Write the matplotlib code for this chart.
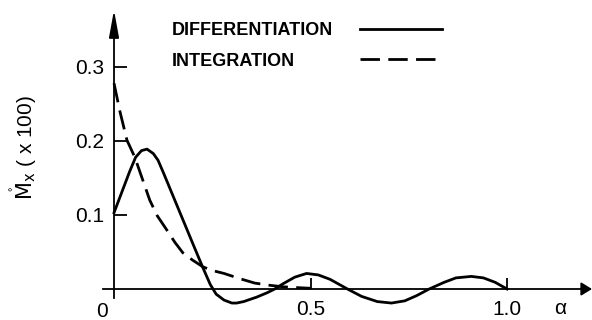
import matplotlib
matplotlib.use('Agg')
import matplotlib.pyplot as plt

# Moment response versus alpha for the two schemes
diff_alpha = [0.0, 0.02, 0.04, 0.055, 0.07, 0.084, 0.10, 0.112, 0.125, 0.15, 0.175, 0.20,
              0.226, 0.245, 0.26, 0.28, 0.30, 0.312, 0.33, 0.363, 0.39, 0.409, 0.43, 0.46,
              0.49, 0.52, 0.55, 0.594, 0.63, 0.67, 0.706, 0.74, 0.77, 0.802, 0.84, 0.87,
              0.909, 0.94, 0.97, 1.0]
diff_mx = [0.103, 0.131, 0.159, 0.178, 0.187, 0.189, 0.183, 0.174, 0.158, 0.126, 0.094, 0.062,
           0.029, 0.006, -0.007, -0.015, -0.019, -0.019, -0.017, -0.011, -0.005, 0.0, 0.007, 0.016,
           0.021, 0.019, 0.013, 0.0, -0.010, -0.017, -0.019, -0.016, -0.009, 0.0, 0.009, 0.015,
           0.017, 0.015, 0.009, 0.0]

int_alpha = [0.0, 0.015, 0.033, 0.053, 0.07, 0.091, 0.11, 0.134, 0.155, 0.175, 0.20, 0.226,
             0.25, 0.28, 0.32, 0.358, 0.396, 0.43, 0.46, 0.50]
int_mx = [0.278, 0.240, 0.201, 0.178, 0.152, 0.120, 0.099, 0.080, 0.063, 0.049, 0.039, 0.030,
          0.025, 0.021, 0.014, 0.008, 0.005, 0.003, 0.002, 0.001]

y_ticks = [0.1, 0.2, 0.3]
y_tick_labels = ['0.1', '0.2', '0.3']
x_ticks = [0.5, 1.0]
x_tick_labels = ['0.5', '1.0']
series_names = ['DIFFERENTIATION', 'INTEGRATION']

num_font = ['Liberation Sans', 'DejaVu Sans']
LW = 2.0
DASH = (7, 3)

fig = plt.figure(figsize=(5.92, 3.2), dpi=100)
ax = fig.add_axes([0, 0, 1, 1])
ax.set_xlim(-0.2901, 1.2163)
ax.set_ylim(-0.0419, 0.3905)

ax.plot(diff_alpha, diff_mx, color='black', lw=LW)
ax.plot(int_alpha, int_mx, color='black', lw=LW, dashes=DASH)

# axes drawn through the origin
for side in ('top', 'right'):
    ax.spines[side].set_visible(False)
ax.spines['left'].set_position(('data', 0))
ax.spines['bottom'].set_position(('data', 0))
ax.spines['left'].set_bounds(-0.012, 0.36)
ax.spines['bottom'].set_bounds(-0.028, 1.20)
for side in ('left', 'bottom'):
    ax.spines[side].set_linewidth(1.3)

ax.annotate('', xy=(0, 0.377), xytext=(0, 0.35),
            arrowprops=dict(arrowstyle='-|>,head_length=1.65,head_width=0.3',
                            color='black', lw=1.3, shrinkA=0, shrinkB=0))
ax.annotate('', xy=(1.2163, 0), xytext=(1.19, 0),
            arrowprops=dict(arrowstyle='-|>,head_length=0.65,head_width=0.4',
                            color='black', lw=1.3, shrinkA=0, shrinkB=0))

ax.set_yticks(y_ticks)
ax.set_yticklabels(y_tick_labels, family=num_font, fontsize=15)
ax.set_xticks(x_ticks)
ax.set_xticklabels(x_tick_labels, family=num_font, fontsize=15)
ax.tick_params(axis='y', direction='in', length=9, width=1.3, pad=7)
ax.tick_params(axis='x', direction='in', length=8, width=1.3, pad=8)

ax.text(-0.031, -0.031, '0', family=num_font, fontsize=15, ha='center', va='center')
ax.text(1.135, -0.026, 'α', family=num_font, fontsize=15, ha='center', va='center')
ax.text(0.0405, 0.5375, r'$\mathring{\mathrm{M}}_{\mathrm{x}}$ ( x 100)', transform=ax.transAxes,
        rotation=90, ha='center', va='center', family=num_font, fontsize=15)

# key: names on the left, line samples on the right
key_rows = [(0.906, 0.909, {}), (0.809, 0.816, {'dashes': DASH})]
for name, (ty, ly, style) in zip(series_names, key_rows):
    ax.text(0.2905, ty, name, transform=ax.transAxes, family=num_font, weight='bold',
            fontsize=13, ha='left', va='center')
    ax.plot([0.608, 0.747], [ly, ly], transform=ax.transAxes, color='black', lw=LW, **style)

fig.savefig('out.png', dpi=100)
